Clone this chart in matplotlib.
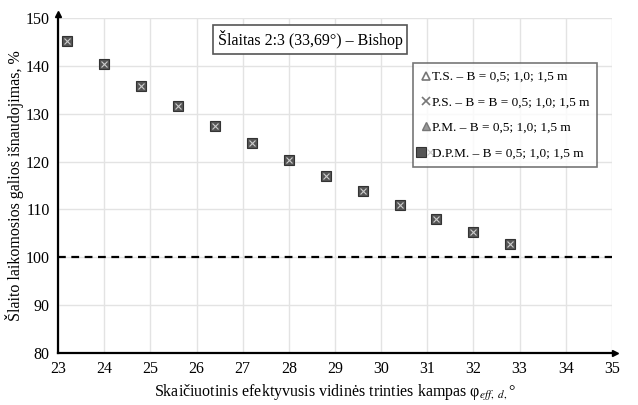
import numpy as np
import matplotlib.pyplot as plt
from matplotlib.legend_handler import HandlerTuple

plt.rcParams['font.family'] = ['Liberation Serif', 'DejaVu Serif']
plt.rcParams['mathtext.fontset'] = 'stix'

# Daten (alle vier Reihen liegen übereinander)
phi = [23.2, 24.0, 24.8, 25.6, 26.4, 27.2, 28.0, 28.8, 29.6, 30.4, 31.2, 32.0, 32.8]
util = [145.1, 140.3, 135.8, 131.6, 127.5, 123.8, 120.3, 117.0, 113.8, 110.9, 108.0, 105.3, 102.7]
labels = ['T.S. – B = 0,5; 1,0; 1,5 m',
          'P.S. – B = B = 0,5; 1,0; 1,5 m',
          'P.M. – B = 0,5; 1,0; 1,5 m',
          'D.P.M. – B = 0,5; 1,0; 1,5 m']
x_ticks = list(range(23, 36))
y_ticks = list(range(80, 151, 10))
limit = 100

fig = plt.figure(figsize=(6.38, 4.05), dpi=100)
ax = fig.add_axes([0.091, 0.128, 0.868, 0.828])

h1, = ax.plot(phi, util, ls='none', marker='^', ms=6, mfc='white', mec='#777777', mew=1.2)
h2, = ax.plot(phi, util, ls='none', marker='x', ms=6, mec='#777777', mew=1.2)
h3, = ax.plot(phi, util, ls='none', marker='^', ms=6, mfc='#999999', mec='#777777')
h4, = ax.plot(phi, util, ls='none', marker='s', ms=7, mfc='#555555', mec='#333333', mew=0.8, zorder=4)
h4x, = ax.plot(phi, util, ls='none', marker='x', ms=4.5, mec='#cccccc', mew=0.8, zorder=5)

ax.axhline(limit, color='black', ls=(0, (3.5, 2.5)), lw=1.6, zorder=3)

ax.set_xlim(23, 35)
ax.set_ylim(80, 150)
ax.set_xticks(x_ticks)
ax.set_yticks(y_ticks)
ax.tick_params(length=0, labelsize=11.5, pad=6)
ax.grid(True, color='#e3e3e3', lw=1)
ax.set_axisbelow(True)
for s in ['top', 'right']:
    ax.spines[s].set_visible(False)
for s in ['left', 'bottom']:
    ax.spines[s].set_linewidth(1.6)

# Pfeile an den Achsen
ax.plot(1.005, 0, '>k', ms=5, transform=ax.transAxes, clip_on=False)
ax.plot(0, 1.01, '^k', ms=5, transform=ax.transAxes, clip_on=False)

ax.set_ylabel('Šlaito laikomosios galios išnaudojimas, %', fontsize=11.5)
ax.yaxis.set_label_coords(-0.062, 0.5)
ax.set_xlabel(r'Skaičiuotinis efektyvusis vidinės trinties kampas φ$_{eff,\ d,}$°', fontsize=11.5, labelpad=4)

ax.text(0.455, 0.935, 'Šlaitas 2:3 (33,69°) – Bishop', transform=ax.transAxes,
        ha='center', va='center', fontsize=11.5,
        bbox=dict(boxstyle='square,pad=0.3', fc='white', ec='#555555', lw=1.2))

leg = ax.legend([h1, h2, h3, (h4, h4x)], labels, loc='upper right',
                bbox_to_anchor=(0.985, 0.885), fontsize=9.5, frameon=True,
                fancybox=False, edgecolor='#555555', handlelength=0.7,
                handletextpad=0.1, borderpad=0.6, labelspacing=1.0,
                handler_map={tuple: HandlerTuple(ndivide=None)})
leg.get_frame().set_linewidth(1.2)

plt.savefig('out.png')
